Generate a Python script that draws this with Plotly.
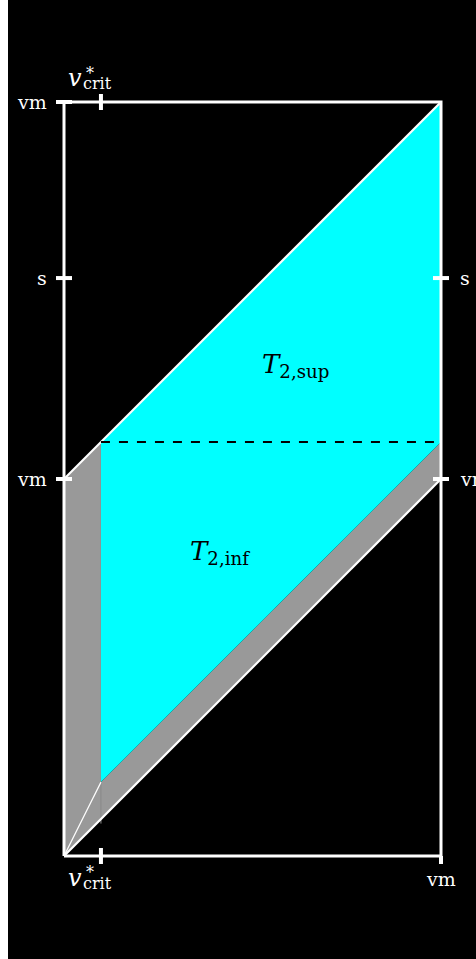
import plotly.graph_objects as go

# ---- data (in units of vm) ----
x_crit = 0.098          # v*_crit position on x axis
vm = 1.0                # vm
s_level = 1.533         # s level on y axis
y_top = 2.0             # top of box
x_ticks = [x_crit, 1.0]
x_tick_labels = ["v*crit", "vm"]
y_ticks_left = [2.0, 1.533, 1.0]
y_tick_labels_left = ["vm", "s", "vm"]
y_ticks_right = [1.533, 1.0]
y_tick_labels_right = ["s", "vm"]
region_labels = ["2,sup", "2,inf"]
region_label_x = [0.613, 0.414]
region_label_y = [1.302, 0.804]

LEFT_PAD = 8                      # page body margin on the left
W, H = 476 - LEFT_PAD, 959
X0PX, Y0PX, SCALE = 64 - LEFT_PAD, 856, 377  # pixel origin and px per unit
xr = [-X0PX / SCALE, (W - X0PX) / SCALE]
yr = [(Y0PX - H) / SCALE, Y0PX / SCALE]

GREY = "#999999"
CYAN = "#00ffff"
WHITE = "white"

fig = go.Figure()

# grey region
gx = [0, 0, x_crit, x_crit, vm, vm, 0]
gy = [0, vm, vm + x_crit, 2 * x_crit, vm + x_crit, vm, 0]
fig.add_trace(go.Scatter(x=gx, y=gy, fill="toself", fillcolor=GREY, mode="lines",
                         line=dict(width=0, color=GREY), hoverinfo="skip"))
# cyan region
cx = [x_crit, vm, vm, x_crit, x_crit]
cy = [vm + x_crit, y_top, vm + x_crit, 2 * x_crit, vm + x_crit]
fig.add_trace(go.Scatter(x=cx, y=cy, fill="toself", fillcolor=CYAN, mode="lines",
                         line=dict(width=0, color=CYAN), hoverinfo="skip"))

def seg(x, y, width, color=WHITE, dash="solid"):
    fig.add_trace(go.Scatter(x=x, y=y, mode="lines", line=dict(width=width, color=color, dash=dash),
                             hoverinfo="skip", cliponaxis=False))

# thin grey vertical line at x_crit in grey region
seg([x_crit, x_crit], [2 * x_crit, 2 * x_crit - 0.11], 1, "#888888")
# thin white line from origin
seg([0, x_crit], [0, 2 * x_crit], 1.2)
# diagonals
seg([0, vm], [vm, y_top], 2.2)
seg([0, vm], [0, vm], 2.2)
# dashed line
seg([x_crit, vm], [vm + x_crit, vm + x_crit], 2, "black", "dash")
# box
seg([0, 0, vm, vm, 0], [0, y_top, y_top, 0, 0], 3)

tick_h = 8 / SCALE
for yv in y_ticks_left:
    seg([-tick_h, tick_h], [yv, yv], 4)
for yv in y_ticks_right:
    seg([vm - tick_h, vm + tick_h], [yv, yv], 4)
seg([x_ticks[0], x_ticks[0]], [-tick_h, tick_h], 4)
seg([x_ticks[1], x_ticks[1]], [-tick_h, 0], 4)
seg([x_ticks[0], x_ticks[0]], [y_top - tick_h, y_top + tick_h], 4)

ann = []
LF = dict(family="DejaVu Serif", size=19, color=WHITE)
for yv, t in zip(y_ticks_left, y_tick_labels_left):
    ann.append(dict(x=-0.04, y=yv, text=t, xanchor="right", yanchor="middle", showarrow=False, font=LF))
for yv, t in zip(y_ticks_right, y_tick_labels_right):
    ann.append(dict(x=vm + 0.045, y=yv, text=t, xanchor="left", yanchor="middle", showarrow=False, font=LF))
ann.append(dict(x=x_ticks[1], y=-0.062, text=x_tick_labels[1], xanchor="center", yanchor="middle",
                showarrow=False, font=LF))

def vcrit(yv, ystar, ycrit):
    ann.append(dict(x=0.030, y=yv, text="<i>v</i>", xanchor="center", yanchor="middle",
                    showarrow=False, font=dict(family="DejaVu Serif", size=24, color=WHITE)))
    ann.append(dict(x=0.088, y=ycrit, text="crit", xanchor="center", yanchor="middle",
                    showarrow=False, font=dict(family="DejaVu Serif", size=16, color=WHITE)))
    ann.append(dict(x=0.070, y=ystar, text="*", xanchor="center", yanchor="middle",
                    showarrow=False, font=dict(family="DejaVu Serif", size=16, color=WHITE)))

vcrit(y_top + 0.063, y_top + 0.075, y_top + 0.048)
vcrit(-0.058, -0.045, -0.074)

for sub, x, y in zip(region_labels, region_label_x, region_label_y):
    ann.append(dict(x=x, y=y, text="<i>T</i><sub>" + sub + "</sub>", xanchor="center", yanchor="middle",
                    showarrow=False, font=dict(family="DejaVu Serif", size=26, color="black")))

fig.update_layout(
    width=W, height=H, margin=dict(l=0, r=0, t=0, b=0),
    paper_bgcolor="black", plot_bgcolor="black", showlegend=False,
    xaxis=dict(range=xr, visible=False, fixedrange=True),
    yaxis=dict(range=yr, visible=False, fixedrange=True),
    annotations=ann,
)
fig.write_html("out.html", config={"displayModeBar": False},
               post_script="document.body.style.margin='0 0 0 8px';")
